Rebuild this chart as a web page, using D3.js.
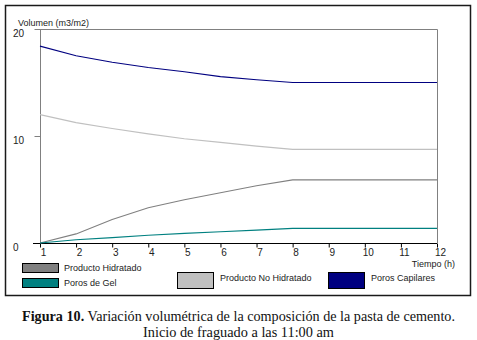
<!DOCTYPE html>
<html>
<head>
<meta charset="utf-8">
<script src="https://cdn.jsdelivr.net/npm/d3@7"></script>
<style>
body { margin: 0; background: #fff; }
svg text { font-family: "Liberation Sans", Arial, sans-serif; }
</style>
</head>
<body>
<div id="chart"></div>
<script>
//Data
const hours = [1, 2, 3, 4, 5, 6, 7, 8, 9, 10, 11, 12];
const porosCapilares = [18.4, 17.5, 16.9, 16.4, 16.0, 15.55, 15.25, 15.0, 15.0, 15.0, 15.0, 15.0];
const productoNoHidratado = [12.0, 11.25, 10.7, 10.2, 9.75, 9.4, 9.05, 8.75, 8.75, 8.75, 8.75, 8.75];
const productoHidratado = [0, 0.85, 2.2, 3.3, 4.05, 4.7, 5.35, 5.9, 5.9, 5.9, 5.9, 5.9];
const porosGel = [0, 0.3, 0.5, 0.72, 0.9, 1.05, 1.2, 1.37, 1.37, 1.37, 1.37, 1.37];
const yTicks = [0, 10, 20];
const seriesNames = ['Producto Hidratado', 'Poros de Gel', 'Producto No Hidratado', 'Poros Capilares'];
const seriesColors = ['#808080', '#008080', '#c0c0c0', '#000080'];
const captionBold = 'Figura 10.';
const captionRest = ' Variación volumétrica de la composición de la pasta de cemento.';
const captionLine2 = 'Inicio de fraguado a las 11:00 am';

const w = 477, h = 340;
const svg = d3.select('#chart').append('svg').attr('width', w).attr('height', h);

//outer frame
svg.append('rect')
	.attr('x', 5.5).attr('y', 5.5).attr('width', 465).attr('height', 290)
	.style('fill', 'none').style('stroke', '#1a1a1a').style('stroke-width', 1.5);

const x = d3.scaleLinear().domain([1, 12]).range([40, 437]);
const y = d3.scaleLinear().domain([0, 20]).range([243, 29]);

//plot frame (top and right, grey)
svg.append('path')
	.attr('d', `M${x(1)},${y(20) + 0.5}H${x(12) + 0.5}V${y(0)}`)
	.style('fill', 'none').style('stroke', '#808080');

//y axis
const yAxis = svg.append('g')
	.attr('transform', `translate(${x(1) + 0.5},0)`)
	.call(d3.axisLeft(y).tickValues(yTicks).tickSize(6).tickFormat(''));
yAxis.select('.domain').attr('stroke', '#808080').attr('d', `M0,${y(20)}V${y(0)}`);
yAxis.selectAll('.tick line').attr('stroke', '#808080');
svg.selectAll('.ylab')
	.data(yTicks)
	.enter()
	.append('text')
	.attr('class', 'ylab')
	.attr('x', 13)
	.attr('y', d => y(d) + 8)
	.style('font-size', '10px')
	.style('fill', '#222')
	.text(d => d);

//x axis
const xAxis = svg.append('g')
	.attr('transform', `translate(0,${y(0) + 0.5})`)
	.call(d3.axisBottom(x).tickValues(hours).tickSize(4).tickSizeOuter(0));
xAxis.select('.domain').attr('stroke', '#000').attr('d', `M33,0H${x(12)}`);
xAxis.selectAll('.tick line').attr('stroke', '#000');
xAxis.selectAll('.tick text')
	.attr('dx', 3).attr('y', 5)
	.style('font-size', '10px').style('font-family', '"Liberation Sans", Arial, sans-serif')
	.style('fill', '#222');

//axis titles
svg.append('text')
	.attr('x', 18).attr('y', 26)
	.style('font-size', '9px').style('fill', '#222')
	.text('Volumen (m3/m2)');
svg.append('text')
	.attr('x', 455).attr('y', 267)
	.attr('text-anchor', 'end')
	.style('font-size', '9px').style('fill', '#222')
	.text('Tiempo (h)');

//lines
const line = d3.line()
	.x((d, i) => x(hours[i]))
	.y(d => y(d));
const allSeries = [productoHidratado, porosGel, productoNoHidratado, porosCapilares];
svg.selectAll('.series')
	.data(allSeries)
	.enter()
	.append('path')
	.attr('class', 'series')
	.attr('d', line)
	.style('fill', 'none')
	.style('stroke', (d, i) => seriesColors[i])
	.style('stroke-width', 1.1);

//legend
const legendPos = [
	{sx: 22, sy: 263, sw: 36, sh: 9, tx: 64, ty: 270.5},
	{sx: 22, sy: 278, sw: 36, sh: 9, tx: 64, ty: 285.5},
	{sx: 177, sy: 272, sw: 36, sh: 16, tx: 220, ty: 280.5},
	{sx: 328, sy: 272, sw: 36, sh: 16, tx: 371, ty: 280.5}
];
const legend = svg.selectAll('.legend')
	.data(seriesNames)
	.enter()
	.append('g')
	.attr('class', 'legend');
legend.append('rect')
	.attr('x', (d, i) => legendPos[i].sx + 0.5)
	.attr('y', (d, i) => legendPos[i].sy + 0.5)
	.attr('width', (d, i) => legendPos[i].sw)
	.attr('height', (d, i) => legendPos[i].sh)
	.style('fill', (d, i) => seriesColors[i])
	.style('stroke', '#000');
legend.append('text')
	.attr('x', (d, i) => legendPos[i].tx)
	.attr('y', (d, i) => legendPos[i].ty)
	.style('font-size', '9px').style('fill', '#222')
	.text(d => d);

//caption
const cap = svg.append('text')
	.attr('x', 22).attr('y', 321)
	.attr('textLength', 433)
	.attr('lengthAdjust', 'spacingAndGlyphs')
	.style('font-family', '"Liberation Serif", "Times New Roman", serif')
	.style('font-size', '14px')
	.style('fill', '#111');
cap.append('tspan').style('font-weight', 'bold').text(captionBold);
cap.append('tspan').text(captionRest);
svg.append('text')
	.attr('x', 143).attr('y', 337)
	.attr('textLength', 191)
	.attr('lengthAdjust', 'spacingAndGlyphs')
	.style('font-family', '"Liberation Serif", "Times New Roman", serif')
	.style('font-size', '14px')
	.style('fill', '#111')
	.text(captionLine2);
</script>
</body>
</html>
